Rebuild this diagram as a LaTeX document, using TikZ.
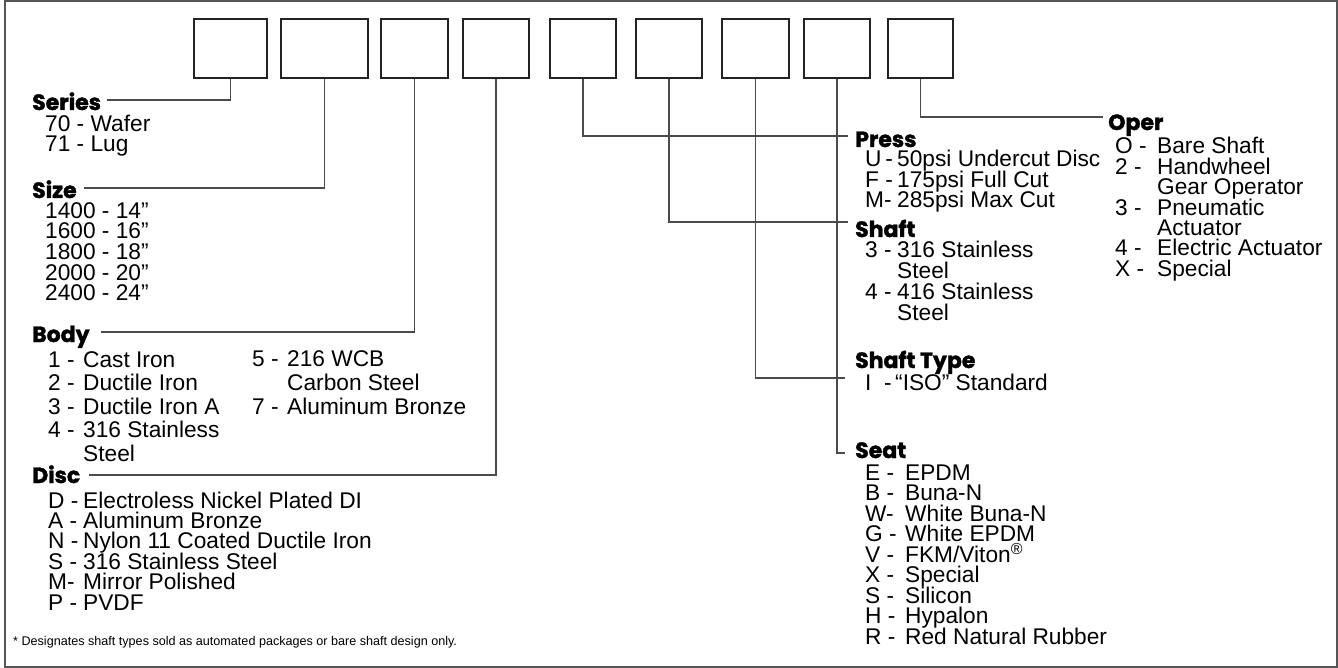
\documentclass[tikz,border=0pt]{standalone}
\usepackage{fontspec}
\setmainfont{Liberation Sans}
\newfontfamily\headfont{Poppins}[BoldFeatures={FakeBold=1.6}]
\usepackage{tikz}
\usetikzlibrary{positioning}
\definecolor{BoxGray}{RGB}{35,35,35}
\definecolor{LinkGray}{RGB}{75,75,75}
\definecolor{FrameGray}{RGB}{85,85,85}

\begin{document}
\begin{tikzpicture}[x=1pt, y=-1pt,
  codebox/.style={draw=BoxGray, line width=1.8pt, minimum height=59pt, inner sep=0pt},
  link/.style={draw=LinkGray, line width=1.3pt},
  head/.style={anchor=base west, inner sep=0pt, font=\headfont\bfseries\fontsize{22}{24}\selectfont},
  entry/.style={anchor=base west, inner sep=0pt, font=\fontsize{22.7}{24}\selectfont},
  note/.style={anchor=base west, inner sep=0pt, font=\fontsize{12.6}{14}\selectfont}]
\useasboundingbox (0,0) rectangle (1338,668);
\draw[FrameGray, line width=2pt] (5,1.5) rectangle (1336.5,666.5);
\foreach \n/\cx/\w in {1/230.5/73, 2/324.5/87, 3/414.5/67, 4/496/66, 5/583/66, 6/669/66, 7/755.5/67, 8/837/66, 9/920.5/65}
  \node[codebox, minimum width=\w pt] (b\n) at (\cx,48.5) {};

\node[head] (series) at (32,110) {Series};
\node[head] (size) at (32,198) {Size};
\node[head] (body) at (32,342) {Body};
\node[head] (disc) at (32,483) {Disc};
\node[head] (press) at (855,147) {Press};
\node[head] (shaft) at (855,237) {Shaft};
\node[head] (shafttype) at (855,368) {Shaft Type};
\node[head] (seat) at (855,458) {Seat};
\node[head] (oper) at (1108,130) {Oper};

\draw[link] (b1.south) |- ([shift={(6,-10)}]series.base east);
\draw[link] (b2.south) |- ([shift={(7,-10)}]size.base east);
\draw[link] (b3.south) |- ([shift={(11,-10)}]body.base east);
\draw[link] (b4.south) |- ([shift={(9,-8)}]disc.base east);
\draw[link] (b5.south) |- ([shift={(-7,-11)}]press.base west);
\draw[link] (b6.south) |- ([shift={(-7,-15)}]shaft.base west);
\draw[link] (b7.south) |- ([shift={(-10,10)}]shafttype.base west);
\draw[link] (b8.south) |- ([shift={(-10,-5)}]seat.base west);
\draw[link] (b9.south) |- ([shift={(-5,-13)}]oper.base west);

\foreach \t [count=\i from 0] in {70 - Wafer, 71 - Lug}
  \node[entry] (series-\i) at (45,132+20*\i) {\t};
\foreach \t [count=\i from 0] in {1400 - 14”, 1600 - 16”, 1800 - 18”, 2000 - 20”, 2400 - 24”}
  \node[entry] (size-\i) at (45,218.5+20.5*\i) {\t};
\foreach \c/\d [count=\i from 0] in {1 -/Cast Iron, 2 -/Ductile Iron, 3 -/Ductile Iron A, 4 -/316 Stainless, /Steel}{
  \node[entry] (body-c\i) at (48,367+23.5*\i) {\c};
  \node[entry] (body-d\i) at (83,367+23.5*\i) {\d};
}
\foreach \c/\d [count=\i from 0] in {5 -/216 WCB, /Carbon Steel, 7 -/Aluminum Bronze}{
  \node[entry] (bodyb-c\i) at (252,366+24*\i) {\c};
  \node[entry] (bodyb-d\i) at (287,366+24*\i) {\d};
}
\foreach \c/\d [count=\i from 0] in {D -/Electroless Nickel Plated DI, A -/Aluminum Bronze, N -/Nylon 11 Coated Ductile Iron, S -/316 Stainless Steel, M-/Mirror Polished, P -/PVDF}{
  \node[entry] (disc-c\i) at (48,508+20.4*\i) {\c};
  \node[entry] (disc-d\i) at (83,508+20.4*\i) {\d};
}
\foreach \c/\d [count=\i from 0] in {U\,-/50psi Undercut Disc, F -/175psi Full Cut, M-/285psi Max Cut}{
  \node[entry] (press-c\i) at (865,167+20.5*\i) {\c};
  \node[entry] (press-d\i) at (897,167+20.5*\i) {\d};
}
\foreach \c/\d [count=\i from 0] in {3 -/316 Stainless, /Steel, 4 -/416 Stainless, /Steel}{
  \node[entry] (shaft-c\i) at (865,258+20.7*\i) {\c};
  \node[entry] (shaft-d\i) at (897,258+20.7*\i) {\d};
}
\node[entry] (shafttype-c0) at (865,390) {I\ \ -};
\node[entry] (shafttype-d0) at (895,390) {“ISO” Standard};
\foreach \c/\d [count=\i from 0] in {E -/EPDM, B -/Buna-N, W-/White Buna-N, G -/White EPDM, V -/{FKM/Viton\textsuperscript{®}}, X -/Special, S -/Silicon, H -/Hypalon, R -/Red Natural Rubber}{
  \node[entry] (seat-c\i) at (865,480+20.5*\i) {\c};
  \node[entry] (seat-d\i) at (905,480+20.5*\i) {\d};
}
\foreach \c/\d [count=\i from 0] in {O -/Bare Shaft, 2 -/Handwheel, /Gear Operator, 3 -/Pneumatic, /Actuator, 4 -/Electric Actuator, X -/Special}{
  \node[entry] (oper-c\i) at (1115,154+20.4*\i) {\c};
  \node[entry] (oper-d\i) at (1157,154+20.4*\i) {\d};
}
\node[note] (footnote) at (13,645) {* Designates shaft types sold as automated packages or bare shaft design only.};
\end{tikzpicture}
\end{document}
